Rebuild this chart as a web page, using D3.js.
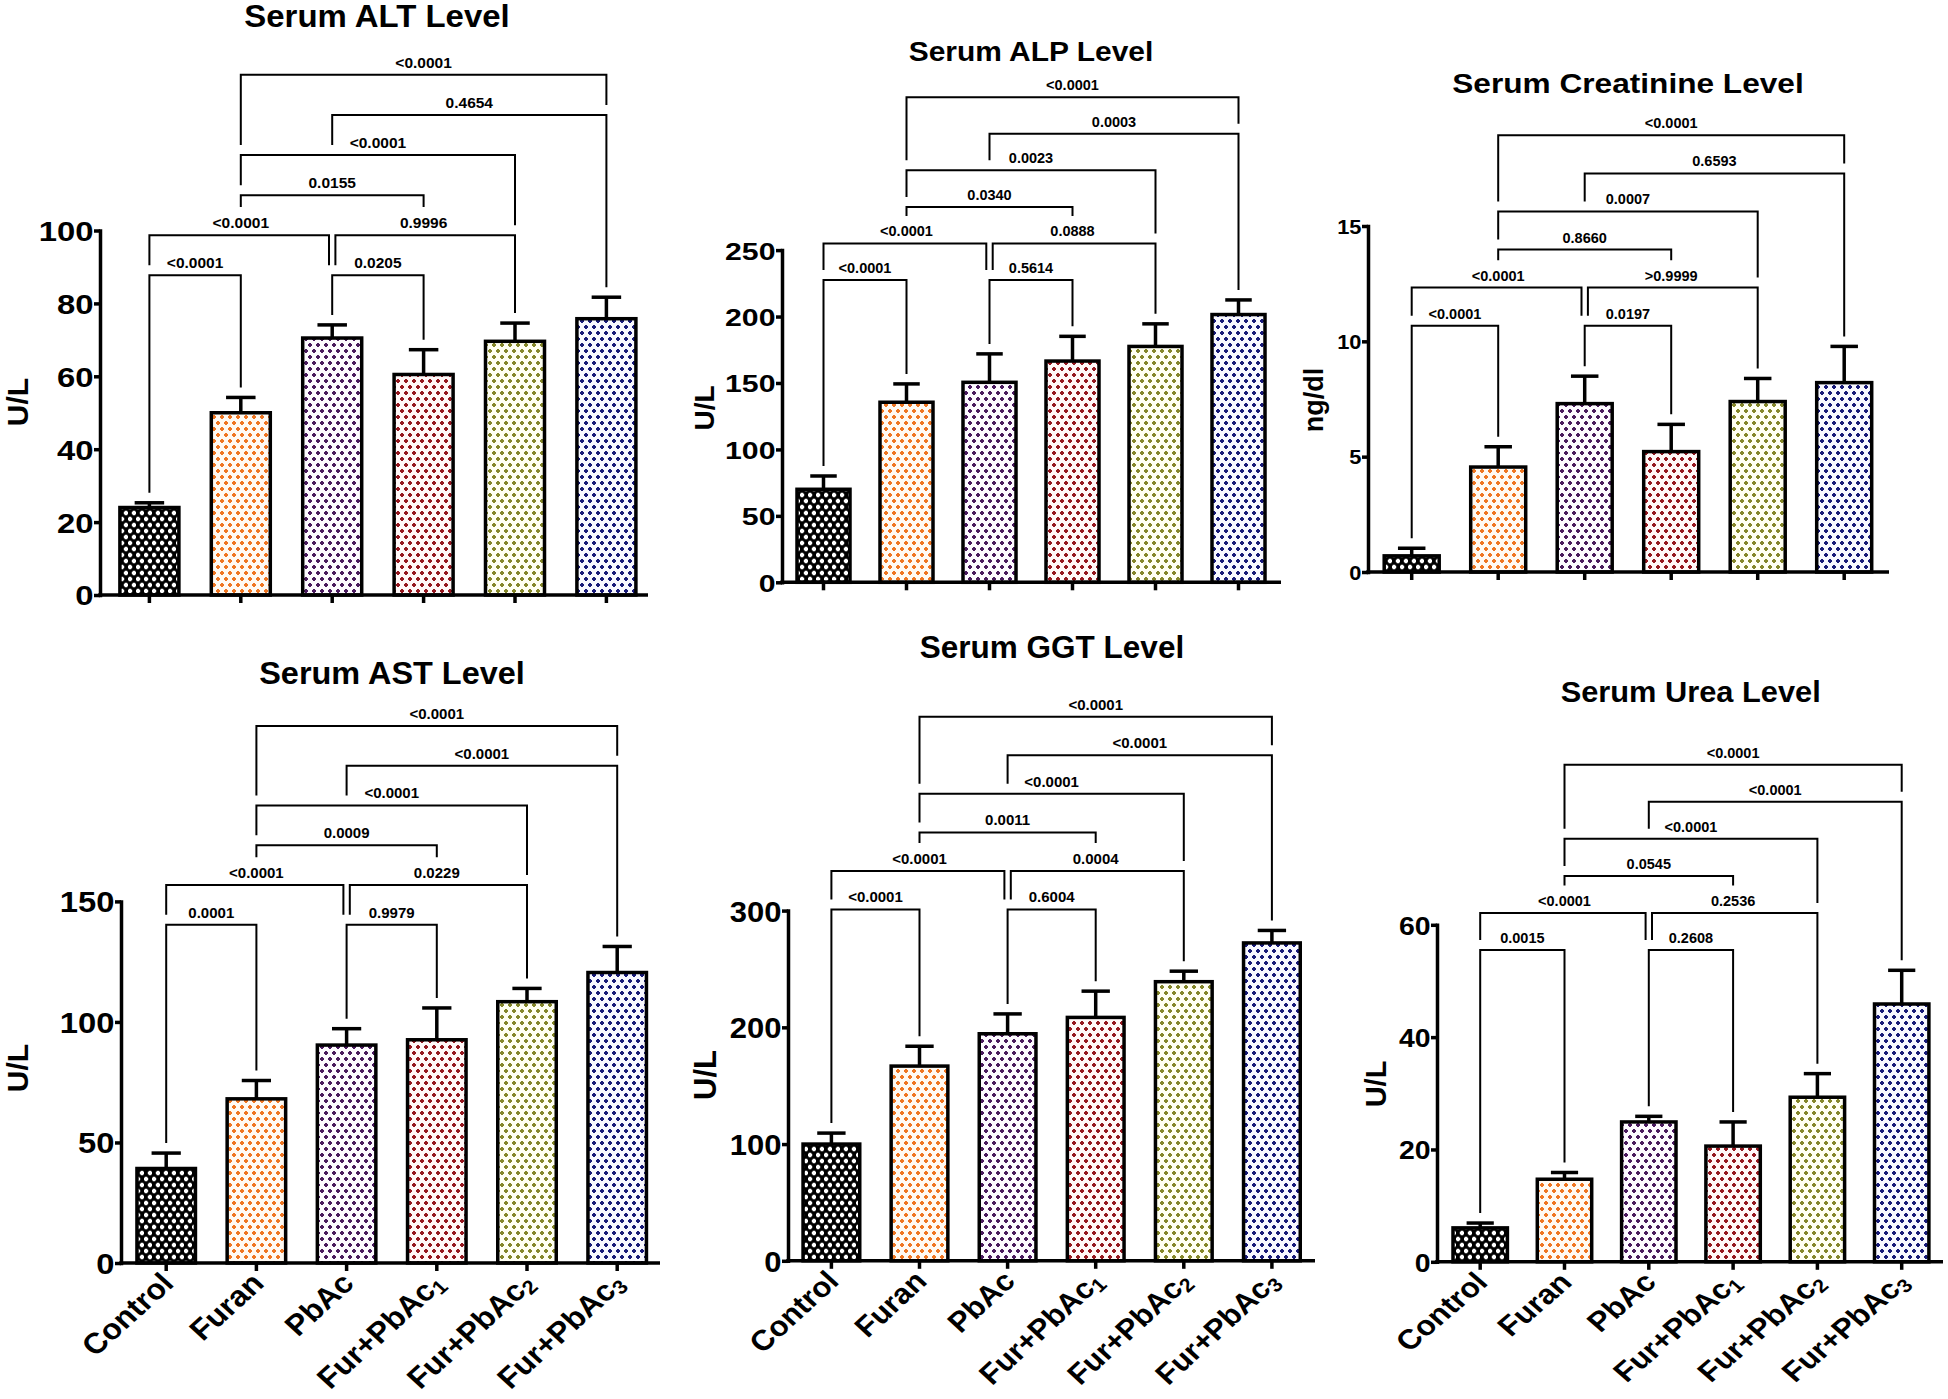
<!DOCTYPE html>
<html><head><meta charset="utf-8">
<script src="https://cdn.jsdelivr.net/npm/d3@7"></script>
<style>
body{margin:0;background:#fff}
svg{display:block}
text{font-family:"Liberation Sans",Arial,Helvetica,sans-serif;font-weight:bold;fill:#000}
</style>
</head><body>
<svg id="c" width="1948" height="1399"></svg>
<script>
// ---------- DATA ----------
const categories = ["Control","Furan","PbAc","Fur+PbAc1","Fur+PbAc2","Fur+PbAc3"];
const labelMain  = ["Control","Furan","PbAc","Fur+PbAc","Fur+PbAc","Fur+PbAc"];
const labelSub   = ["","","","1","2","3"];

const altMean  = [24.0, 50.0, 70.5, 60.5, 69.6, 75.8];
const altErr   = [1.3, 4.2, 3.6, 6.8, 5.0, 5.9];
const alpMean  = [70.0, 135.5, 150.5, 166.5, 177.5, 201.5];
const alpErr   = [10.0, 13.8, 21.4, 18.6, 17.0, 11.0];
const creMean  = [0.70, 4.55, 7.30, 5.22, 7.39, 8.21];
const creErr   = [0.33, 0.88, 1.19, 1.18, 1.00, 1.57];
const astMean  = [39.2, 68.1, 90.4, 92.6, 108.4, 120.5];
const astErr   = [6.4, 7.6, 6.8, 13.2, 5.5, 10.8];
const ggtMean  = [100.0, 166.8, 194.5, 208.5, 239.1, 272.3];
const ggtErr   = [9.4, 17.0, 17.0, 22.5, 9.0, 10.7];
const ureaMean = [6.04, 14.7, 24.9, 20.6, 29.3, 45.9];
const ureaErr  = [0.86, 1.2, 1.0, 4.3, 4.2, 6.0];

const altTicks  = [0, 20, 40, 60, 80, 100];
const alpTicks  = [0, 50, 100, 150, 200, 250];
const creTicks  = [0, 5, 10, 15];
const astTicks  = [0, 50, 100, 150];
const ggtTicks  = [0, 100, 200, 300];
const ureaTicks = [0, 20, 40, 60];

// comparisons: Control-Furan, Control-PbAc, PbAc-PbAc1, PbAc-PbAc2, Furan-PbAc1, Furan-PbAc2, PbAc-PbAc3, Furan-PbAc3
const compFrom = [0, 0, 2, 2, 1, 1, 2, 1];
const compTo   = [1, 2, 3, 4, 3, 4, 5, 5];
const compTier = [0, 1, 0, 1, 2, 3, 4, 5];
const altP  = ["<0.0001","<0.0001","0.0205","0.9996","0.0155","<0.0001","0.4654","<0.0001"];
const alpP  = ["<0.0001","<0.0001","0.5614","0.0888","0.0340","0.0023","0.0003","<0.0001"];
const creP  = ["<0.0001","<0.0001","0.0197",">0.9999","0.8660","0.0007","0.6593","<0.0001"];
const astP  = ["0.0001","<0.0001","0.9979","0.0229","0.0009","<0.0001","<0.0001","<0.0001"];
const ggtP  = ["<0.0001","<0.0001","0.6004","0.0004","0.0011","<0.0001","<0.0001","<0.0001"];
const ureaP = ["0.0015","<0.0001","0.2608","0.2536","0.0545","<0.0001","<0.0001","<0.0001"];

const dotColors = ["#ffffff","#ef7622","#4a1a5e","#951820","#85872a","#181a78"];
const bgColors  = ["#000000","#fffaf3","#fdfaff","#fff8f8","#fffff2","#f8f8ff"];

// ---------- LAYOUT ----------
const panels = [
 {title:"Serum ALT Level", ylab:"U/L", mean:altMean, err:altErr, p:altP, ticks:altTicks,
  left:100, right:648, y0:595, yTop:230.5, c0:149.4, step:91.4, bw:59,
  tX:377, tY:27, tFs:30.5, tSx:1.08, kFs:27.6, kSx:1.19, lX:17, lY:402, lFs:30, pFs:15.5, xl:false},
 {title:"Serum ALP Level", ylab:"U/L", mean:alpMean, err:alpErr, p:alpP, ticks:alpTicks,
  left:782, right:1281, y0:582.3, yTop:250.1, c0:823.5, step:83.0, bw:53,
  tX:1031, tY:61, tFs:28, tSx:1.07, kFs:24.8, kSx:1.22, lX:704, lY:408, lFs:28, pFs:14.5, xl:false},
 {title:"Serum Creatinine Level", ylab:"ng/dl", mean:creMean, err:creErr, p:creP, ticks:creTicks,
  left:1368, right:1889, y0:572, yTop:226, c0:1411.7, step:86.5, bw:55,
  tX:1628, tY:93, tFs:28.5, tSx:1.11, kFs:19.5, kSx:1.12, lX:1313.5, lY:400, lFs:27, pFs:14.5, xl:false},
 {title:"Serum AST Level", ylab:"U/L", mean:astMean, err:astErr, p:astP, ticks:astTicks,
  left:121, right:660, y0:1263, yTop:901.4, c0:166.2, step:90.2, bw:58.5,
  tX:392, tY:684, tFs:31.5, tSx:1.03, kFs:29, kSx:1.13, lX:17, lY:1068, lFs:30, pFs:15, xl:true, xFs:29, xSx:1.1},
 {title:"Serum GGT Level", ylab:"U/L", mean:ggtMean, err:ggtErr, p:ggtP, ticks:ggtTicks,
  left:788, right:1315, y0:1260.8, yTop:910.6, c0:831.4, step:88.1, bw:56.7,
  tX:1052, tY:658, tFs:31.5, tSx:1.0, kFs:29.5, kSx:1.05, lX:705, lY:1075, lFs:31, pFs:15, xl:true, xFs:28.5, xSx:1.09},
 {title:"Serum Urea Level", ylab:"U/L", mean:ureaMean, err:ureaErr, p:ureaP, ticks:ureaTicks,
  left:1437, right:1943, y0:1261.8, yTop:924.8, c0:1480.2, step:84.3, bw:54.4,
  tX:1690.7, tY:702, tFs:29.6, tSx:1.04, kFs:26.3, kSx:1.08, lX:1376, lY:1084, lFs:29, pFs:14.5, xl:true, xFs:27.5, xSx:1.16}
];

const svg = d3.select("#c");
svg.append("rect").attr("width",1948).attr("height",1399).attr("fill","#fff");
const defs = svg.append("defs");

function plus(cx, cy, a, b){ // cross: arm half-length a, half-thickness b
  return `M${cx-b},${cy-a}H${cx+b}V${cy-b}H${cx+a}V${cy+b}H${cx+b}V${cy+a}H${cx-b}V${cy+b}H${cx-a}V${cy-b}H${cx-b}Z`;
}
categories.forEach((c,i)=>{
  const W = 8, H = 12;
  const p = defs.append("pattern").attr("id","pat"+i).attr("patternUnits","userSpaceOnUse")
    .attr("width",W).attr("height",H);
  p.append("rect").attr("width",W).attr("height",H).attr("fill",bgColors[i]);
  const a = i===0 ? 2.2 : 2.0, b = i===0 ? 1.3 : 1.0;
  [[2,3],[6,9]].forEach(([x,y])=>{
    p.append("path").attr("d",plus(x,y,a,b)).attr("fill",dotColors[i]);
    p.append("circle").attr("cx",x).attr("cy",y).attr("r",i===0?1.6:1.4).attr("fill",dotColors[i]);
  });
});

const SW = 3.5;

panels.forEach(P=>{
  const g = svg.append("g");
  const y = d3.scaleLinear().domain([0, d3.max(P.ticks)]).range([P.y0, P.yTop]);
  const pi = 1 - P.bw/P.step;
  const x = d3.scaleBand().domain(categories)
      .range([P.c0 - P.step/2, P.c0 + 5.5*P.step]).paddingInner(pi).paddingOuter(pi/2);
  const cx = i => x(categories[i]) + x.bandwidth()/2;

  // title
  g.append("text").attr("transform",`translate(${P.tX},${P.tY}) scale(${P.tSx},1)`)
    .attr("text-anchor","middle").attr("font-size",P.tFs).text(P.title);

  // y label
  g.append("text").attr("transform",`translate(${P.lX + 0.36*P.lFs},${P.lY}) rotate(-90)`)
    .attr("text-anchor","middle").attr("font-size",P.lFs).text(P.ylab);

  // bars
  g.selectAll("rect.bar").data(P.mean).enter().append("rect").attr("class","bar")
    .attr("x",(d,i)=>x(categories[i])).attr("width",x.bandwidth())
    .attr("y",d=>y(d)).attr("height",d=>P.y0 - y(d))
    .attr("fill",(d,i)=>`url(#pat${i})`).attr("stroke","#000").attr("stroke-width",SW);

  // error bars (upper only)
  const eb = g.selectAll("g.err").data(P.mean).enter().append("g").attr("class","err");
  eb.append("line").attr("x1",(d,i)=>cx(i)).attr("x2",(d,i)=>cx(i))
    .attr("y1",d=>y(d)).attr("y2",(d,i)=>y(d+P.err[i])).attr("stroke","#000").attr("stroke-width",SW);
  eb.append("line").attr("x1",(d,i)=>cx(i)-x.bandwidth()*0.25).attr("x2",(d,i)=>cx(i)+x.bandwidth()*0.25)
    .attr("y1",(d,i)=>y(d+P.err[i])).attr("y2",(d,i)=>y(d+P.err[i])).attr("stroke","#000").attr("stroke-width",SW);

  // y axis
  const gy = g.append("g").attr("transform",`translate(${P.left},0)`)
    .call(d3.axisLeft(y).tickValues(P.ticks).tickSize(6).tickSizeOuter(0).tickPadding(1).tickFormat(d3.format("d")));
  gy.attr("font-family",null);
  gy.select(".domain").attr("stroke-width",SW).attr("stroke-linecap","square");
  gy.selectAll(".tick line").attr("stroke-width",SW);
  gy.selectAll(".tick text").attr("font-size",P.kFs)
    .attr("x",-6.5/P.kSx).attr("transform",`scale(${P.kSx},1)`).attr("dy","0.36em");

  // x axis
  const gx = g.append("g").attr("transform",`translate(0,${P.y0})`)
    .call(d3.axisBottom(x).tickSize(8).tickSizeOuter(0).tickFormat(""));
  gx.select(".domain").remove();
  gx.selectAll(".tick line").attr("stroke-width",SW);
  gx.append("line").attr("x1",P.left - SW/2).attr("x2",P.right).attr("stroke","#000").attr("stroke-width",SW);
  if (P.xl){
    gx.selectAll(".tick").each(function(d,i){
      const t = d3.select(this).append("text")
        .attr("transform",`translate(${9},${22}) scale(${P.xSx},1) rotate(-45)`)
        .attr("text-anchor","end").attr("font-size",P.xFs).attr("fill","#000");
      t.append("tspan").text(labelMain[i]);
      if (labelSub[i]) t.append("tspan").attr("font-size",P.xFs*0.68).attr("dy","0.22em").text(labelSub[i]);
    });
  }

  // significance brackets
  const ymax = d3.max(P.ticks);
  const top = d3.max(P.mean.map((m,i)=>m+P.err[i]));
  const tierY = k => y(top + ymax*(0.06 + 0.11*k));
  const comps = compFrom.map((f,k)=>({f, t:compTo[k], tier:compTier[k], p:P.p[k]}));
  comps.forEach(c=>{
    c.xl = cx(c.f); c.xr = cx(c.t);
    if (comps.some(o=>o!==c && o.tier===c.tier && o.t===c.f)) c.xl += 3.2;
    if (comps.some(o=>o!==c && o.tier===c.tier && o.f===c.t)) c.xr -= 3.2;
    c.y = tierY(c.tier);
    c.lx = (cx(c.f)+cx(c.t))/2;
    c.ly = c.y - 7;
  });
  const gb = g.append("g");
  comps.forEach(c=>{
    const t = gb.append("text").attr("x",c.lx).attr("y",c.ly).attr("text-anchor","middle")
      .attr("font-size",P.pFs).text(c.p);
    c.lw = t.node().getComputedTextLength();
    c.ltop = c.ly - 0.72*P.pFs;
  });
  const legEnd = (c, grp) => {
    const xg = cx(grp);
    const obs = [y(P.mean[grp] + P.err[grp])];
    comps.forEach(o=>{
      if (o.tier < c.tier){
        if (o.f <= grp && grp <= o.t) obs.push(o.y);
        if (Math.abs(o.lx - xg) <= o.lw/2 + 2) obs.push(o.ltop);
      }
    });
    return d3.min(obs) - 10;
  };
  comps.forEach(c=>{
    const yl = legEnd(c, c.f), yr = legEnd(c, c.t);
    gb.append("path").attr("d",`M${c.xl},${yl}V${c.y}H${c.xr}V${yr}`)
      .attr("fill","none").attr("stroke","#000").attr("stroke-width",2);
  });
});
</script>
</body></html>
